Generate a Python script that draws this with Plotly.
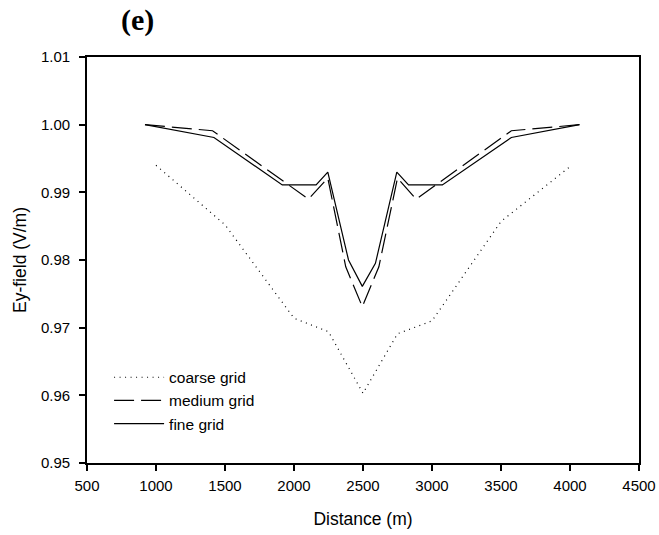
import plotly.graph_objects as go

# Data
coarse_x = [1000, 1500, 2000, 2250, 2500, 2750, 3000, 3500, 4000]
coarse_y = [0.9940, 0.9852, 0.9714, 0.9694, 0.9603, 0.9691, 0.9710, 0.9857, 0.9938]

medium_x = [920, 1410, 2105, 2245, 2375, 2495, 2615, 2750, 2885, 3575, 4070]
medium_y = [1.000, 0.9991, 0.9890, 0.9921, 0.9790, 0.9731, 0.9790, 0.9921, 0.9890, 0.9991, 1.000]

fine_x = [920, 1420, 1915, 2160, 2245, 2395, 2495, 2590, 2745, 2830, 3075, 3575, 4070]
fine_y = [1.000, 0.9981, 0.9911, 0.9911, 0.9930, 0.9800, 0.9761, 0.9795, 0.9930, 0.9911, 0.9911, 0.9981, 1.000]

series_names = ["coarse grid", "medium grid", "fine grid"]
x_ticks = [500, 1000, 1500, 2000, 2500, 3000, 3500, 4000, 4500]
y_ticks = [0.95, 0.96, 0.97, 0.98, 0.99, 1.00, 1.01]

fig = go.Figure()
fig.add_trace(go.Scatter(x=coarse_x, y=coarse_y, mode="lines", name=series_names[0],
                         line=dict(color="black", width=1.2, dash="1px,4.5px")))
fig.add_trace(go.Scatter(x=medium_x, y=medium_y, mode="lines", name=series_names[1],
                         line=dict(color="black", width=1.2, dash="20px,7px")))
fig.add_trace(go.Scatter(x=fine_x, y=fine_y, mode="lines", name=series_names[2],
                         line=dict(color="black", width=1.2)))

axis_font = dict(family="Liberation Sans, Arial, sans-serif", size=15, color="black")

fig.update_layout(
    width=659, height=535,
    margin=dict(l=87, r=20, t=57, b=72),
    paper_bgcolor="white", plot_bgcolor="white",
    font=dict(family="Liberation Sans, Arial, sans-serif", color="black"),
    showlegend=True,
    legend=dict(x=0.04, y=0.252, xanchor="left", yanchor="top",
                bgcolor="rgba(0,0,0,0)", font=dict(size=15.5, family="Liberation Sans, Arial, sans-serif"),
                itemwidth=50, tracegroupgap=0),
    xaxis=dict(range=[500, 4500], tickvals=x_ticks, ticktext=[str(v) for v in x_ticks],
               showgrid=False, zeroline=False, showline=True, linecolor="black", linewidth=1.8,
               mirror=True, ticks="outside", ticklen=6, tickwidth=1.5, tickcolor="black",
               tickfont=axis_font, ticklabelstandoff=2, automargin=False,
               title=dict(text="Distance (m)", font=dict(size=17.5, family="Liberation Sans, Arial, sans-serif"),
                          standoff=20)),
    yaxis=dict(range=[0.95, 1.01], tickvals=y_ticks, ticktext=[f"{v:.2f}" for v in y_ticks],
               showgrid=False, zeroline=False, showline=True, linecolor="black", linewidth=1.8,
               mirror=True, ticks="outside", ticklen=6, tickwidth=1.5, tickcolor="black",
               tickfont=axis_font, ticklabelstandoff=6, automargin=False,
               title=dict(text="Ey-field (V/m)", font=dict(size=17.5, family="Liberation Sans, Arial, sans-serif"),
                          standoff=10)),
    annotations=[dict(text="<b>(e)</b>", xref="paper", yref="paper", x=0.092, y=1.09,
                      xanchor="center", yanchor="middle", showarrow=False,
                      font=dict(family="Liberation Serif, Times New Roman, serif", size=30, color="black"))],
)

fig.write_html("out.html")
